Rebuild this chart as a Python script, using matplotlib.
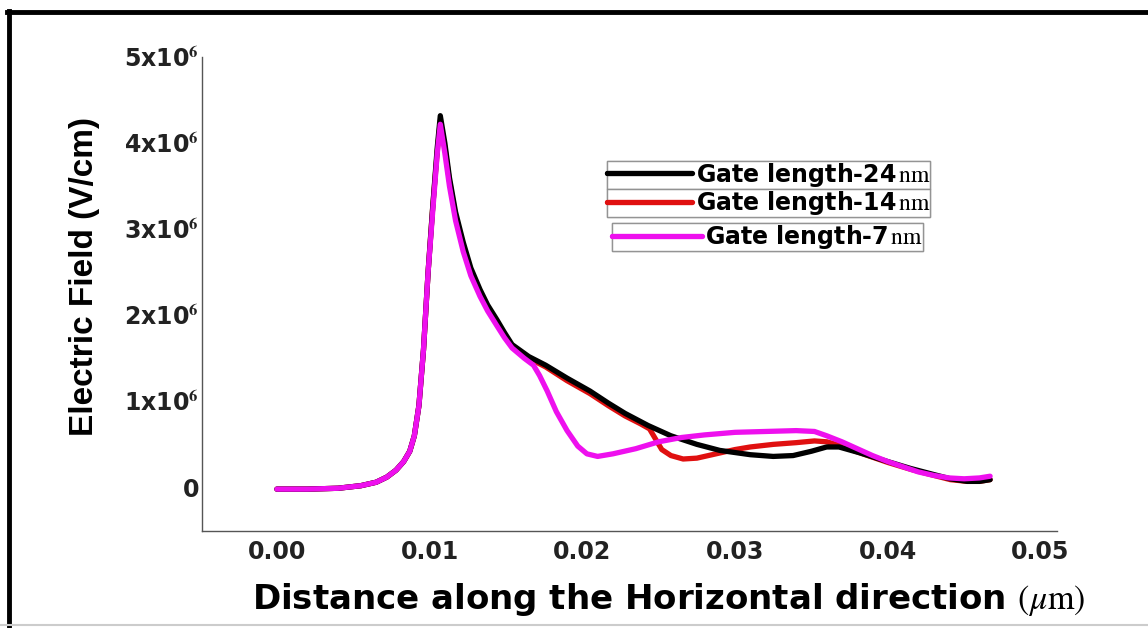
import numpy as np
import matplotlib.pyplot as plt
from matplotlib.lines import Line2D

plt.rcParams['mathtext.fontset'] = 'stix'

# electric field along the channel, values in MV/cm
x_24 = [0.0, 0.002, 0.004, 0.0055, 0.0065, 0.0072, 0.0078, 0.0083, 0.0087, 0.009,
        0.0093, 0.0096, 0.0099, 0.0102, 0.0105, 0.0107, 0.011, 0.0113, 0.0117, 0.0122,
        0.0127, 0.0133, 0.0138, 0.0144, 0.0149, 0.0154, 0.0165, 0.0176, 0.019, 0.0205,
        0.0217, 0.0228, 0.0243, 0.0258, 0.0275, 0.029, 0.031, 0.0325, 0.0338, 0.035,
        0.036, 0.0368, 0.0382, 0.04, 0.0415, 0.043, 0.0441, 0.0452, 0.046, 0.0467]
e_24 = [-0.02, -0.02, -0.01, 0.02, 0.06, 0.12, 0.2, 0.3, 0.42, 0.6,
        0.95, 1.6, 2.5, 3.25, 3.95, 4.32, 4.0, 3.6, 3.2, 2.85,
        2.55, 2.3, 2.12, 1.95, 1.8, 1.66, 1.52, 1.42, 1.27, 1.12,
        0.98, 0.86, 0.72, 0.6, 0.5, 0.43, 0.38, 0.36, 0.37, 0.42,
        0.47, 0.47, 0.4, 0.3, 0.22, 0.15, 0.1, 0.07, 0.07, 0.09]

x_14 = [0.0, 0.002, 0.004, 0.0055, 0.0065, 0.0072, 0.0078, 0.0083, 0.0087, 0.009,
        0.0093, 0.0096, 0.0099, 0.0102, 0.0105, 0.0107, 0.011, 0.0113, 0.0117, 0.0122,
        0.0127, 0.0133, 0.0138, 0.0144, 0.0149, 0.0154, 0.0165, 0.0176, 0.019, 0.0205,
        0.0217, 0.0228, 0.0238, 0.0244, 0.0248, 0.0252, 0.0258, 0.0266, 0.0275, 0.0285,
        0.03, 0.031, 0.0325, 0.034, 0.0352, 0.036, 0.0368, 0.0382, 0.04, 0.0415,
        0.043, 0.0441, 0.0452, 0.046, 0.0467]
e_14 = [-0.02, -0.02, -0.01, 0.02, 0.06, 0.12, 0.2, 0.3, 0.42, 0.6,
        0.95, 1.6, 2.5, 3.25, 3.9, 4.26, 3.95, 3.56, 3.16, 2.82,
        2.52, 2.27, 2.1, 1.93, 1.78, 1.64, 1.5, 1.4, 1.24, 1.09,
        0.95, 0.83, 0.74, 0.68, 0.56, 0.44, 0.37, 0.33, 0.34, 0.38,
        0.44, 0.47, 0.5, 0.52, 0.54, 0.53, 0.49, 0.4, 0.29, 0.21,
        0.14, 0.09, 0.07, 0.07, 0.09]

x_7 = [0.0, 0.002, 0.004, 0.0055, 0.0065, 0.0072, 0.0078, 0.0083, 0.0087, 0.009,
       0.0093, 0.0096, 0.0099, 0.0102, 0.0105, 0.0107, 0.011, 0.0113, 0.0117, 0.0122,
       0.0127, 0.0133, 0.0138, 0.0144, 0.0149, 0.0154, 0.0162, 0.0168, 0.0172, 0.0177,
       0.0183, 0.019, 0.0197, 0.0203, 0.021, 0.022, 0.0235, 0.025, 0.0265, 0.028,
       0.03, 0.032, 0.034, 0.0352, 0.036, 0.037, 0.038, 0.039, 0.04, 0.041,
       0.042, 0.043, 0.044, 0.045, 0.046, 0.0467]
e_7 = [-0.02, -0.02, -0.01, 0.02, 0.06, 0.12, 0.2, 0.3, 0.42, 0.6,
       0.95, 1.6, 2.5, 3.2, 3.88, 4.22, 3.88, 3.5, 3.1, 2.74,
       2.46, 2.22, 2.05, 1.88, 1.74, 1.62, 1.5, 1.42, 1.3, 1.12,
       0.88, 0.66, 0.48, 0.39, 0.36, 0.39, 0.45, 0.53, 0.58, 0.61,
       0.64, 0.65, 0.66, 0.65, 0.6, 0.53, 0.45, 0.37, 0.3, 0.24,
       0.18, 0.14, 0.11, 0.1, 0.11, 0.13]

labels = ['Gate length-24', 'Gate length-14', 'Gate length-7']
colors = ['black', '#e01010', '#ee10ee']
x_ticks = [0.0, 0.01, 0.02, 0.03, 0.04, 0.05]
y_ticks = [0, 1e6, 2e6, 3e6, 4e6, 5e6]

fig = plt.figure(figsize=(11.48, 6.28), dpi=100)
ax = fig.add_axes([0.176, 0.154, 0.745, 0.755])

h14, = ax.plot(x_14, np.array(e_14) * 1e6, color=colors[1], lw=3.8, solid_capstyle='round')
h24, = ax.plot(x_24, np.array(e_24) * 1e6, color=colors[0], lw=3.8, solid_capstyle='round')
h7, = ax.plot(x_7, np.array(e_7) * 1e6, color=colors[2], lw=3.8, solid_capstyle='round')

ax.set_xlim(-0.0049, 0.0511)
ax.set_ylim(-0.51e6, 5e6)
ax.set_xticks(x_ticks)
ax.set_xticklabels(['%.2f' % v for v in x_ticks])
ax.set_yticks(y_ticks)
ax.set_yticklabels(['0'] + [r'%dx10$^{\mathbf{6}}$' % (v / 1e6) for v in y_ticks[1:]])
ax.tick_params(length=0, labelsize=17, colors='#222222')
ax.tick_params(axis='x', pad=6)
ax.tick_params(axis='y', pad=2)
for lab in ax.get_xticklabels() + ax.get_yticklabels():
    lab.set_fontweight('bold')

for s in ['top', 'right']:
    ax.spines[s].set_visible(False)
for s in ['left', 'bottom']:
    ax.spines[s].set_color('#555555')
    ax.spines[s].set_linewidth(1.0)

fig.text(0.582, 0.046, r'Distance along the Horizontal direction $(\mu\mathrm{m})$',
         fontsize=24.5, fontweight='bold', ha='center', va='center')
fig.text(0.074, 0.559, 'Electric Field (V/cm)', fontsize=24, fontweight='bold',
         rotation=90, ha='center', va='center',
         family=['Liberation Sans Narrow', 'Liberation Sans'])

# one framed entry per row
rows = [(h24, labels[0], 0.722, 0.529, 3.6),
        (h14, labels[1], 0.676, 0.529, 3.6),
        (h7, labels[2], 0.622, 0.533, 3.8)]
for h, txt, yy, xx, hl in rows:
    leg = fig.legend([h], [txt + r'$\,\mathrm{nm}\;$'], loc='center left',
                     bbox_to_anchor=(xx, yy),
                     prop={'weight': 'bold', 'size': 17}, frameon=True, fancybox=False,
                     handlelength=hl, handletextpad=0.15, borderpad=0.0,
                     borderaxespad=0, edgecolor='#888888')
    leg.get_frame().set_linewidth(1.0)
    fig.add_artist(leg)

# outer frame
fig.add_artist(Line2D([0.006, 1.0], [0.981, 0.981], transform=fig.transFigure,
                      color='black', lw=3.5))
fig.add_artist(Line2D([0.008, 0.008], [0.0, 0.983], transform=fig.transFigure,
                      color='black', lw=3.5))
fig.add_artist(Line2D([0.0, 1.0], [0.004, 0.004], transform=fig.transFigure,
                      color='#cccccc', lw=1.5))

fig.savefig('out.png', dpi=100)
